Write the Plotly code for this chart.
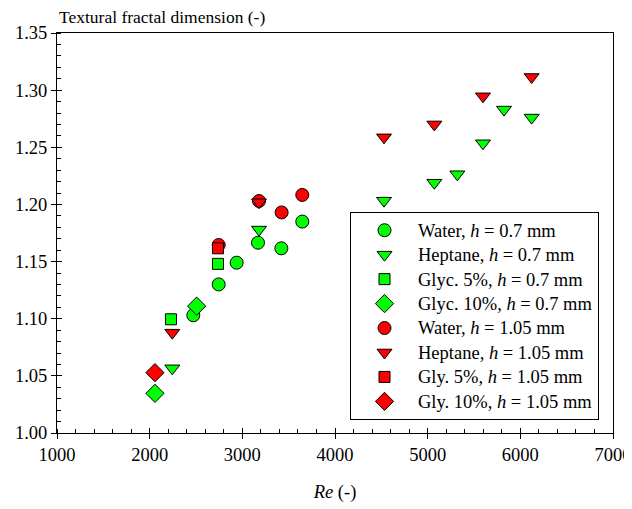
import plotly.graph_objects as go

# Re (-) and textural fractal dimension (-) for each series
water_07_re = [2471, 2745, 2939, 3169, 3421, 3647]
water_07_d = [1.103, 1.130, 1.149, 1.1665, 1.1616, 1.185]

heptane_07_re = [2244, 3180, 4529, 5072, 5320, 5597, 5824, 6122]
heptane_07_d = [1.0566, 1.178, 1.2033, 1.219, 1.2264, 1.2535, 1.283, 1.276]

glyc5_07_re = [2230, 2737]
glyc5_07_d = [1.0995, 1.148]

glyc10_07_re = [2057, 2507]
glyc10_07_d = [1.0347, 1.111]

water_105_re = [2745, 3180, 3424, 3647]
water_105_d = [1.1645, 1.203, 1.193, 1.2083]

heptane_105_re = [2244, 3180, 4529, 5072, 5597, 6122]
heptane_105_d = [1.0878, 1.2019, 1.2587, 1.270, 1.2946, 1.3115]

gly5_105_re = [2737]
gly5_105_d = [1.1616]

gly10_105_re = [2057]
gly10_105_d = [1.0528]

GREEN = "#00FF00"
RED = "#FF0000"
FONT = "Liberation Serif, Times New Roman, serif"

series = [
    ("Water, <i>h</i> = 0.7 mm", water_07_re, water_07_d, "circle", GREEN, 13),
    ("Heptane, <i>h</i> = 0.7 mm", heptane_07_re, heptane_07_d, "triangle-down", GREEN, 13),
    ("Glyc. 5%, <i>h</i> = 0.7 mm", glyc5_07_re, glyc5_07_d, "square", GREEN, 11),
    ("Glyc. 10%, <i>h</i> = 0.7 mm", glyc10_07_re, glyc10_07_d, "diamond", GREEN, 14),
    ("Water, <i>h</i> = 1.05 mm", water_105_re, water_105_d, "circle", RED, 13),
    ("Heptane, <i>h</i> = 1.05 mm", heptane_105_re, heptane_105_d, "triangle-down", RED, 13),
    ("Gly. 5%, <i>h</i> = 1.05 mm", gly5_105_re, gly5_105_d, "square", RED, 11),
    ("Gly. 10%, <i>h</i> = 1.05 mm", gly10_105_re, gly10_105_d, "diamond", RED, 14),
]

fig = go.Figure()
for name, xs, ys, sym, col, sz in series:
    # larger text than the legend font so the rows stay tight
    label = '<span style="font-size:18.5px">' + name + "</span>"
    fig.add_trace(go.Scatter(
        x=xs, y=ys, name=label, mode="markers",
        marker=dict(symbol=sym, color=col, size=sz,
                    line=dict(color="black", width=1)),
    ))

axis_common = dict(
    showgrid=False, zeroline=False, showline=True, linecolor="black",
    linewidth=1, mirror=True, ticks="outside", ticklen=5, tickcolor="black",
    tickfont=dict(family=FONT, size=18.5, color="black"), automargin=False,
)

# page body has an 8px margin, so the figure is a bit smaller than the window
fig.update_layout(
    width=624, height=501,
    paper_bgcolor="white", plot_bgcolor="white",
    font=dict(family=FONT, size=18, color="black"),
    margin=dict(l=49, r=19, t=25, b=76),
    showlegend=True,
    legend=dict(
        x=0.527, y=0.5525, xanchor="left", yanchor="top",
        bgcolor="white", bordercolor="black", borderwidth=1,
        font=dict(family=FONT, size=16.5, color="black"),
        tracegroupgap=0, itemwidth=57,
    ),
    xaxis=dict(
        range=[1000, 7000], dtick=1000, tick0=1000,
        minor=dict(dtick=200, ticks="inside", ticklen=4, tickcolor="black"),
        title=dict(text="<i>Re</i> (-)", font=dict(family=FONT, size=18.5), standoff=20),
        **axis_common,
    ),
    yaxis=dict(
        range=[1.0, 1.35], dtick=0.05, tick0=1.0, tickformat=".2f",
        minor=dict(dtick=0.01, ticks="inside", ticklen=4, tickcolor="black"),
        **axis_common,
    ),
    # inner halves of the major ticks
    xaxis2=dict(overlaying="x", matches="x", side="bottom", showline=False,
                showgrid=False, zeroline=False, ticks="inside", ticklen=5,
                tickcolor="black", showticklabels=False, dtick=1000, tick0=1000,
                automargin=False),
    yaxis2=dict(overlaying="y", matches="y", side="left", showline=False,
                showgrid=False, zeroline=False, ticks="inside", ticklen=5,
                tickcolor="black", showticklabels=False, dtick=0.05, tick0=1.0,
                automargin=False),
    annotations=[dict(
        text="Textural fractal dimension (-)", xref="paper", yref="paper",
        x=0, y=1, xanchor="left", yanchor="bottom", yshift=4, showarrow=False,
        font=dict(family=FONT, size=17.5, color="black"),
    )],
)

# invisible trace to activate the overlay axes
fig.add_trace(go.Scatter(x=[1000], y=[1.0], xaxis="x2", yaxis="y2",
                         mode="markers", marker=dict(opacity=0),
                         showlegend=False, hoverinfo="skip"))

fig.write_html("out.html")
